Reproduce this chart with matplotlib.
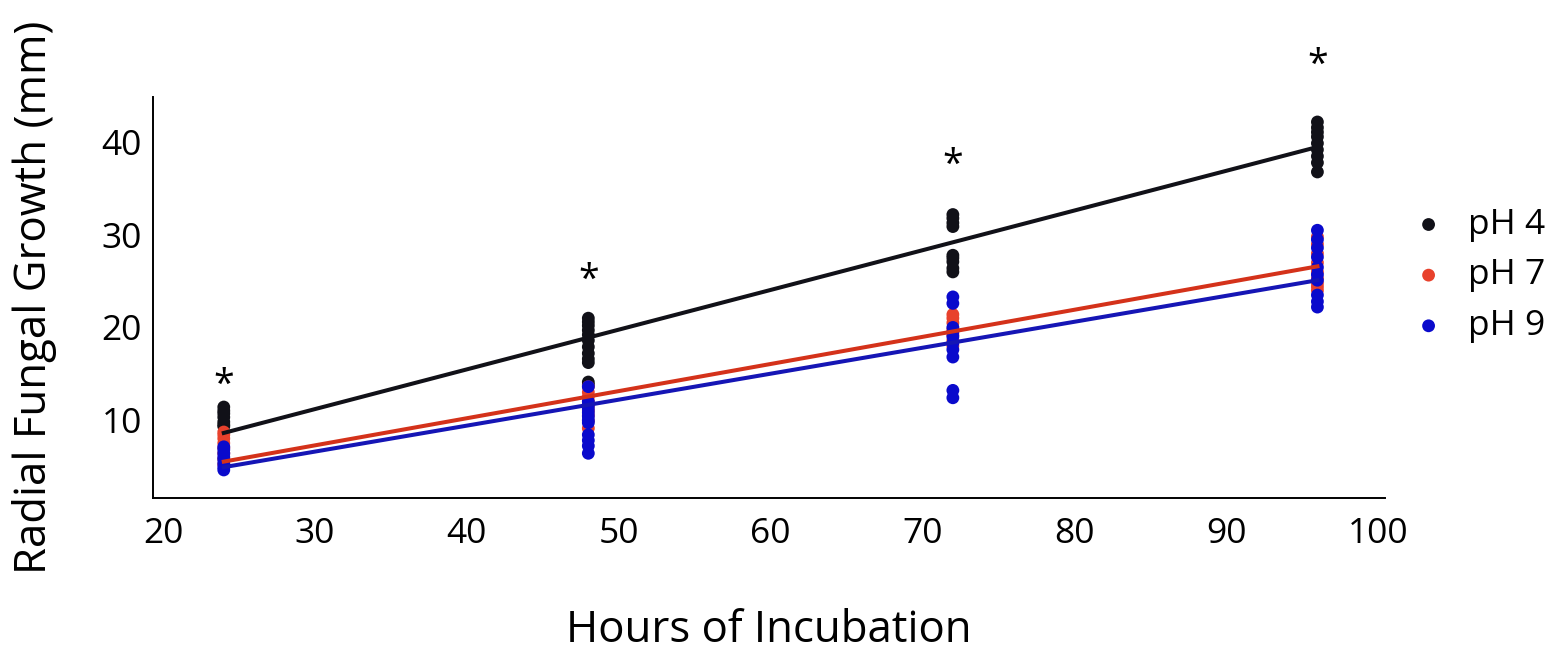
import numpy as np
import matplotlib
matplotlib.use("Agg")
import matplotlib.pyplot as plt

plt.rcParams['font.family'] = ['Open Sans', 'DejaVu Sans']

hours = [24, 48, 72, 96]

# radial growth (mm), one list per time point
ph4 = [
    [11.4, 11.0, 10.7, 10.3, 9.8, 9.5, 9.3],
    [21.0, 20.6, 20.2, 19.7, 19.2, 18.6, 17.9, 17.2, 16.6, 16.2, 14.1, 13.8],
    [32.2, 31.8, 31.3, 30.9, 27.8, 27.5, 27.1, 26.4, 26.0],
    [42.2, 41.6, 41.1, 40.6, 39.9, 39.2, 38.5, 37.8, 36.8],
]
ph7 = [
    [8.7, 8.4, 8.0, 7.5, 7.0, 6.4, 5.8, 5.2],
    [13.6, 13.0, 12.5, 12.0, 11.5, 11.0, 10.5, 9.9, 9.1],
    [21.4, 21.0, 20.5, 19.8, 19.2, 18.6, 18.0],
    [29.8, 29.0, 28.0, 27.0, 26.0, 25.3, 24.8, 24.4, 24.0],
]
ph9 = [
    [7.1, 6.8, 6.4, 6.0, 5.7, 5.3, 4.9, 4.6],
    [13.6, 12.0, 11.6, 11.2, 10.8, 10.4, 10.0, 9.7, 8.4, 7.8, 7.2, 6.4],
    [23.3, 22.6, 20.0, 19.5, 19.0, 18.3, 17.6, 16.8, 13.2, 12.4],
    [30.5, 29.5, 28.6, 27.6, 26.5, 25.7, 25.1, 23.5, 22.8, 22.2],
]

# fitted lines, value at 24 h and at 96 h
fit_x = [24, 96]
fit_ph4 = [8.6, 39.5]
fit_ph7 = [5.5, 26.6]
fit_ph9 = [4.9, 25.1]

star_y = [12.6, 23.9, 36.4, 47.2]

labels = ['pH 4', 'pH 7', 'pH 9']
dot_colors = ['#111118', '#e8412c', '#0a0acc']
line_colors = ['#111118', '#d4321a', '#1515b5']

fig = plt.figure(figsize=(15.59, 6.6), dpi=100)
ax = fig.add_axes([153 / 1559, 162 / 660, 1232 / 1559, 401 / 660])

for groups, lab, dc in zip([ph4, ph7, ph9], labels, dot_colors):
    xs = np.concatenate([[h] * len(g) for h, g in zip(hours, groups)])
    ys = np.concatenate(groups)
    ax.scatter(xs, ys, s=85, color=dc, edgecolors='none', label=lab, zorder=2)

for fit, lc in zip([fit_ph4, fit_ph7, fit_ph9], line_colors):
    ax.plot(fit_x, fit, color=lc, lw=2.9, zorder=3)

for h, sy in zip(hours, star_y):
    ax.text(h, sy, '*', ha='center', va='baseline', fontsize=27, clip_on=False)

ax.set_xlim(19.34, 100.45)
ax.set_ylim(1.57, 44.9)
ax.set_xticks([20, 30, 40, 50, 60, 70, 80, 90, 100])
ax.set_yticks([10, 20, 30, 40])
ax.tick_params(length=0, labelsize=25.5)
ax.tick_params(axis='x', pad=14)
ax.tick_params(axis='y', pad=8)
for side in ['top', 'right']:
    ax.spines[side].set_visible(False)
for side in ['left', 'bottom']:
    ax.spines[side].set_linewidth(1.4)

ax.set_xlabel('Hours of Incubation', fontsize=31.5)
ax.set_ylabel('Radial Fungal Growth (mm)', fontsize=31.5)
ax.xaxis.set_label_coords(0.5, -0.275)
ax.yaxis.set_label_coords(-0.078, 0.5)

ax.legend(loc='center left', bbox_to_anchor=(1.021, 0.555), frameon=False,
          fontsize=25.5, borderaxespad=0, borderpad=0, handlelength=1.0,
          handletextpad=0.6, labelspacing=0.47)

fig.savefig('out.png', dpi=100)
